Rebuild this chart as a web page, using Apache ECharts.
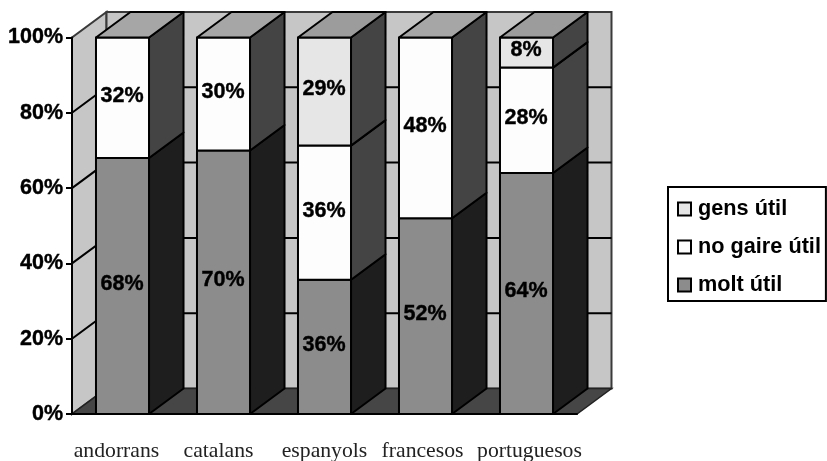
<!DOCTYPE html>
<html>
<head>
<meta charset="utf-8">
<style>html,body{margin:0;padding:0;background:#fff}#chart{width:827px;height:461px}</style>
<script src="https://cdn.jsdelivr.net/npm/echarts@6/dist/echarts.min.js"></script>
</head>
<body>
<div id="chart"></div>
<script>
// Usefulness of languages, by speaker group (100% stacked 3D columns)
const categories = ['andorrans', 'catalans', 'espanyols', 'francesos', 'portuguesos'];
const moltUtil = [68, 70, 36, 52, 64];
const noGaireUtil = [32, 30, 36, 48, 28];
const gensUtil = [0, 0, 29, 0, 8];
const yTicks = [0, 20, 40, 60, 80, 100];

// Oblique projection of the depth axis, in pixels
const DEPTH_X = 34.5;
const DEPTH_Y = 25.5;
const BAR_RATIO = 0.525;
const BOLD = 'bold 21.5px "Liberation Sans", Arial, sans-serif';

// Sideways padding of each category label: [left, right]
const labelPadding = [[0, 12], [0, 10], [0, 0], [0, 6], [6, 0]];

const layers = [
  { name: 'molt útil', values: moltUtil, front: '#8c8c8c', side: '#1e1e1e', top: '#9c9c9c' },
  { name: 'no gaire útil', values: noGaireUtil, front: '#fdfdfd', side: '#444444', top: '#a6a6a6' },
  { name: 'gens útil', values: gensUtil, front: '#e6e6e6', side: '#444444', top: '#9c9c9c' }
];

// Each category is normalised to its own total, as a 100% stack is
const totals = categories.map((_, i) => layers.reduce((s, l) => s + l.values[i], 0));

function face(points, fill) {
  return {
    type: 'polygon',
    shape: { points },
    style: { fill, stroke: '#000', lineWidth: 2, lineJoin: 'round' }
  };
}

function barSeries(layer, index) {
  const data = [];
  categories.forEach((_, i) => {
    const v = layer.values[i];
    if (!v) return;
    let base = 0;
    for (let k = 0; k < index; k++) base += layers[k].values[i];
    const isTop = layers.slice(index + 1).every(l => !l.values[i]);
    data.push([i, base / totals[i] * 100, (base + v) / totals[i] * 100, v, isTop ? 1 : 0]);
  });
  return {
    type: 'custom',
    name: layer.name,
    z: 2,
    silent: true,
    itemStyle: { color: layer.front, borderColor: '#000', borderWidth: 2 },
    data,
    encode: { x: 0, y: [1, 2] },
    renderItem(params, api) {
      const cat = api.value(0);
      const w = api.size([1, 0])[0] * BAR_RATIO;
      const [cx, y0] = api.coord([cat, api.value(1)]);
      const y1 = api.coord([cat, api.value(2)])[1];
      const l = cx - w / 2, r = cx + w / 2;
      const children = [
        face([[r, y0], [r + DEPTH_X, y0 - DEPTH_Y], [r + DEPTH_X, y1 - DEPTH_Y], [r, y1]], layer.side),
        face([[l, y0], [r, y0], [r, y1], [l, y1]], layer.front)
      ];
      if (api.value(4)) {
        children.push(face([[l, y1], [l + DEPTH_X, y1 - DEPTH_Y], [r + DEPTH_X, y1 - DEPTH_Y], [r, y1]], layer.top));
      }
      children.push({
        type: 'text',
        style: {
          text: api.value(3) + '%',
          x: cx - 0.5,
          y: (y0 + y1) / 2 - 2,
          align: 'center',
          verticalAlign: 'middle',
          font: BOLD,
          fill: '#000',
          stroke: '#000',
          lineWidth: 0.4
        }
      });
      return { type: 'group', children };
    }
  };
}

// Side wall, back wall and floor behind the columns
const wallSeries = {
  type: 'custom',
  silent: true,
  z: 1,
  legendHoverLink: false,
  data: [[0, 0]],
  renderItem(params) {
    const g = params.coordSys;
    const x0 = g.x, x1 = g.x + g.width, y0 = g.y + g.height, y1 = g.y;
    const edge = { stroke: '#3a3a3a', lineWidth: 2 };
    return {
      type: 'group',
      children: [
        { type: 'polygon', shape: { points: [[x0, y0], [x0 + DEPTH_X, y0 - DEPTH_Y], [x0 + DEPTH_X, y1 - DEPTH_Y], [x0, y1]] },
          style: { fill: '#c6c6c6', ...edge } },
        { type: 'polygon', shape: { points: [[x0 + DEPTH_X, y0 - DEPTH_Y], [x1 + DEPTH_X, y0 - DEPTH_Y], [x1 + DEPTH_X, y1 - DEPTH_Y], [x0 + DEPTH_X, y1 - DEPTH_Y]] },
          style: { fill: '#c6c6c6', ...edge } },
        { type: 'polygon', shape: { points: [[x0, y0], [x1, y0], [x1 + DEPTH_X, y0 - DEPTH_Y], [x0 + DEPTH_X, y0 - DEPTH_Y]] },
          style: { fill: '#464646', stroke: '#222', lineWidth: 1.5 } }
      ]
    };
  }
};

// Gridlines that fold from the side wall onto the back wall
const gridSeries = {
  type: 'custom',
  silent: true,
  z: 1,
  legendHoverLink: false,
  data: yTicks.slice(1, -1).map(t => [0, t]),
  encode: { x: 0, y: 1 },
  renderItem(params, api) {
    const g = params.coordSys;
    const y = api.coord([0, api.value(1)])[1];
    return {
      type: 'polyline',
      shape: { points: [[g.x, y], [g.x + DEPTH_X, y - DEPTH_Y], [g.x + g.width + DEPTH_X, y - DEPTH_Y]] },
      style: { stroke: '#000', lineWidth: 2, fill: null }
    };
  }
};

// One rich style per category, so each label can sit off its tick centre
const labelStyles = {};
labelPadding.forEach((p, i) => {
  labelStyles['c' + i] = {
    fontFamily: '"Liberation Serif", serif',
    fontSize: 21.7,
    color: '#222',
    padding: [0, p[1], 0, p[0]]
  };
});

const chart = echarts.init(document.getElementById('chart'), null, { renderer: 'canvas' });
chart.setOption({
  animation: false,
  backgroundColor: '#fff',
  grid: { left: 72, top: 37.5, width: 505, height: 376.5, outerBoundsMode: 'none' },
  xAxis: {
    type: 'category',
    data: categories,
    z: 3,
    axisLine: { lineStyle: { color: '#000', width: 2 } },
    axisTick: { length: 8, lineStyle: { color: '#000', width: 2 } },
    axisLabel: {
      margin: 26,
      interval: 0,
      formatter: (value, i) => `{c${i}|${value}}`,
      rich: labelStyles
    }
  },
  yAxis: {
    type: 'value',
    min: 0,
    max: 100,
    interval: 20,
    z: 3,
    splitLine: { show: false },
    axisLine: { show: true, lineStyle: { color: '#000', width: 2 } },
    axisTick: { show: true, length: 6, lineStyle: { color: '#000', width: 2 } },
    axisLabel: {
      margin: 9,
      color: '#000',
      fontFamily: '"Liberation Sans", Arial, sans-serif',
      fontWeight: 'bold',
      fontSize: 21.5,
      textBorderColor: '#000',
      textBorderWidth: 0.4,
      formatter: '{value}%'
    }
  },
  legend: {
    orient: 'vertical',
    left: 668,
    top: 187,
    padding: [11, 5, 5, 9],
    itemWidth: 13,
    itemHeight: 13,
    itemGap: 16,
    icon: 'rect',
    selectedMode: false,
    borderColor: '#000',
    borderWidth: 2,
    data: ['gens útil', 'no gaire útil', 'molt útil'],
    textStyle: {
      color: '#000',
      fontFamily: '"Liberation Sans", Arial, sans-serif',
      fontWeight: 'bold',
      fontSize: 21.7,
      padding: [0, 0, 0, 2]
    }
  },
  series: [wallSeries, gridSeries].concat(layers.map(barSeries))
});
</script>
</body>
</html>
